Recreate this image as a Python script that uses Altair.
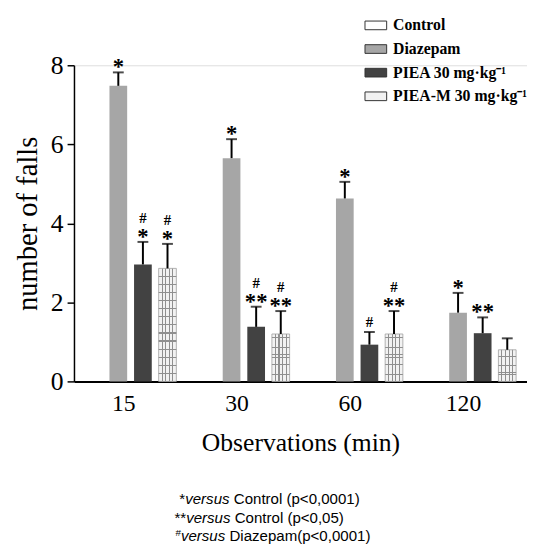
import altair as alt
import pandas as pd

# ---------------- data ----------------
times = ["15", "30", "60", "120"]
groups = ["Control", "Diazepam", "PIEA 30 mg·kg⁻¹", "PIEA-M 30 mg·kg⁻¹"]

control_mean = [0, 0, 0, 0]
control_top = [0, 0, 0, 0]
diazepam_mean = [7.48, 5.65, 4.63, 1.74]
diazepam_top = [7.82, 6.13, 5.05, 2.24]
piea_mean = [2.96, 1.38, 0.93, 1.22]
piea_top = [3.53, 1.89, 1.25, 1.62]
pieam_mean = [2.86, 1.20, 1.20, 0.80]
pieam_top = [3.48, 1.78, 1.78, 1.09]

control_star = ["", "", "", ""]
diazepam_star = ["*", "*", "*", "*"]
piea_star = ["*", "**", "", "**"]
pieam_star = ["*", "**", "**", ""]
control_hash = ["", "", "", ""]
diazepam_hash = ["", "", "", ""]
piea_hash = ["#", "#", "", ""]
pieam_hash = ["#", "#", "#", ""]
control_hash_low = ["", "", "", ""]
diazepam_hash_low = ["", "", "", ""]
piea_hash_low = ["", "", "#", ""]
pieam_hash_low = ["", "", "", ""]

note_prefix = ["*", "**", "#"]
note_word = "versus"
note_rest = ["Control (p<0,0001)", "Control (p<0,05)", "Diazepam(p<0,0001)"]

colors = ["#ffffff", "#a6a6a6", "#424242", "#f2f2f2"]

means = [control_mean, diazepam_mean, piea_mean, pieam_mean]
tops = [control_top, diazepam_top, piea_top, pieam_top]
stars = [control_star, diazepam_star, piea_star, pieam_star]
hashes = [control_hash, diazepam_hash, piea_hash, pieam_hash]
hashes_low = [control_hash_low, diazepam_hash_low, piea_hash_low, pieam_hash_low]

rows = []
for gi, g in enumerate(groups):
    for ti, t in enumerate(times):
        rows.append({"time": t, "group": g, "value": means[gi][ti], "top": tops[gi][ti],
                     "star": stars[gi][ti], "hash": hashes[gi][ti], "hash_low": hashes_low[gi][ti]})
df = pd.DataFrame(rows)

SERIF = "Liberation Serif"
SANS = "Liberation Sans"

X = alt.X("time:N", sort=times,
          scale=alt.Scale(paddingInner=0.14, paddingOuter=0.07),
          axis=alt.Axis(title="Observations (min)", labelAngle=0, ticks=False,
                        labelFont=SERIF, labelFontSize=24, labelColor="black", labelPadding=11,
                        labelOffset=-7,
                        titleFont=SERIF, titleFontSize=26, titleFontWeight="normal",
                        titleColor="black", titlePadding=14,
                        domainColor="black", domainWidth=2))
XO = alt.XOffset("group:N", sort=groups,
                 scale=alt.Scale(domain=groups, paddingInner=0.28, paddingOuter=0.12))
Y = alt.Y("value:Q", scale=alt.Scale(domain=[0, 8], nice=False),
          axis=alt.Axis(title="number of falls", values=[0, 2, 4, 6, 8], grid=False,
                        labelFont=SERIF, labelFontSize=26, labelColor="black", labelPadding=4,
                        tickSize=7, tickWidth=1.5, tickColor="black",
                        domainColor="black", domainWidth=1.5,
                        titleFont=SERIF, titleFontSize=29, titleFontWeight="normal",
                        titleColor="black", titlePadding=8))

base = alt.Chart(df)

bars = base.mark_bar().encode(
    x=X, xOffset=XO, y=Y,
    color=alt.Color("group:N", sort=groups,
                    scale=alt.Scale(domain=groups, range=colors),
                    legend=alt.Legend(title=None, orient="none", legendX=295, legendY=-52,
                                      labelFont=SERIF, labelFontSize=16, labelFontWeight="bold",
                                      labelColor="black", labelOffset=6, rowPadding=4,
                                      symbolType="M-1,-0.4H1V0.4H-1Z", symbolSize=484,
                                      symbolStrokeColor="#333333", symbolStrokeWidth=1,
                                      symbolOpacity=1)),
)

def stripes(n, horizontal, w, col):
    clear = "rgba(255,255,255,0)"
    stops = [{"offset": 0, "color": clear}]
    for k in range(1, n):
        p = k / n
        stops += [{"offset": p - w, "color": clear},
                  {"offset": p - w, "color": col},
                  {"offset": p + w, "color": col},
                  {"offset": p + w, "color": clear}]
    stops.append({"offset": 1, "color": clear})
    g = {"gradient": "linear", "stops": stops}
    if horizontal:
        g.update({"x1": 0, "y1": 0, "x2": 0, "y2": 1})
    else:
        g.update({"x1": 0, "y1": 0, "x2": 1, "y2": 0})
    return g

pieam = base.transform_filter(alt.datum.group == groups[3])
pieam_v = pieam.mark_bar(fill=stripes(5, False, 0.03, "#8f8f8f"), stroke="#a0a0a0",
                         strokeWidth=0.8).encode(x=X, xOffset=XO, y=Y)
pieam_h = pieam.mark_bar(fill=stripes(14, True, 0.005, "#8f8f8f")).encode(x=X, xOffset=XO, y=Y)

err = base.transform_filter(alt.datum.group != "Control")
rules = err.mark_rule(color="black", strokeWidth=2).encode(
    x=X, xOffset=XO, y=Y, y2="top:Q")
caps = err.mark_tick(color="black", thickness=2, size=11).encode(
    x=X, xOffset=XO, y=alt.Y("top:Q"))
star_txt = err.mark_text(font=SERIF, fontWeight="bold", fontSize=23, color="black",
                         baseline="alphabetic", dy=2).encode(
    x=X, xOffset=XO, y=alt.Y("top:Q"), text="star:N")
hash_txt = err.mark_text(font=SERIF, fontWeight="bold", fontSize=15, color="black",
                         baseline="alphabetic", dy=-19).encode(
    x=X, xOffset=XO, y=alt.Y("top:Q"), text="hash:N")
hash_low_txt = err.mark_text(font=SERIF, fontWeight="bold", fontSize=15, color="black",
                             baseline="alphabetic", dy=-5).encode(
    x=X, xOffset=XO, y=alt.Y("top:Q"), text="hash_low:N")

main = alt.layer(bars, pieam_v, pieam_h, rules, caps, star_txt, hash_txt, hash_low_txt)

# ---------------- footnotes ----------------
AW = {"*": 389, "#": 556, "v": 500, "e": 556, "r": 333, "s": 500, "u": 556, " ": 278,
      "C": 722, "o": 556, "n": 556, "t": 278, "l": 222, "(": 333, ")": 333, "p": 556,
      "<": 584, "0": 556, "1": 556, "5": 556, ",": 278, "D": 722, "i": 222, "a": 556,
      "z": 500, "m": 833}

def tw(s, size):
    return sum(AW.get(c, 556) for c in s) * size / 1000.0

FS = 15.3
line_start = [107, 102, 103]
line_base = [445, 465, 483]
pre_size = [FS, FS, 10]
pre_rows, word_rows, rest_rows = [], [], []
for i in range(3):
    x0 = line_start[i]
    pw = tw(note_prefix[i], pre_size[i])
    pre_rows.append({"t": note_prefix[i], "px": x0, "py": line_base[i] - (5 if i == 2 else 0),
                     "s": pre_size[i]})
    word_rows.append({"t": note_word, "px": x0 + pw, "py": line_base[i]})
    rest_rows.append({"t": note_rest[i], "px": x0 + pw + tw(note_word, FS) + tw(" ", FS),
                      "py": line_base[i]})

NX = alt.X("px:Q", scale=None, axis=None)
NY = alt.Y("py:Q", scale=None, axis=None)
n_pre = alt.Chart(pd.DataFrame(pre_rows)).mark_text(
    font=SANS, align="left", baseline="alphabetic", color="black").encode(
    x=NX, y=NY, text="t:N", size=alt.Size("s:Q", scale=None, legend=None))
n_word = alt.Chart(pd.DataFrame(word_rows)).mark_text(
    font=SANS, fontSize=FS, fontStyle="italic", align="left", baseline="alphabetic",
    color="black").encode(x=NX, y=NY, text="t:N")
n_rest = alt.Chart(pd.DataFrame(rest_rows)).mark_text(
    font=SANS, fontSize=FS, align="left", baseline="alphabetic", color="black").encode(
    x=NX, y=NY, text="t:N")
notes = alt.layer(n_pre, n_word, n_rest)

chart = alt.layer(main, notes).resolve_scale(x="independent", y="independent").properties(
    width=460, height=321,
    autosize=alt.AutoSizeParams(type="none"),
    padding={"left": 67, "top": 54, "right": 0, "bottom": 165},
).configure_view(stroke=None).configure_axis(grid=False).configure_legend(
    labelFont=SERIF, labelFontWeight="bold", labelFontSize=16
).configure(background="white")

chart.save("out.html", embed_options={"renderer": "svg", "actions": False})
